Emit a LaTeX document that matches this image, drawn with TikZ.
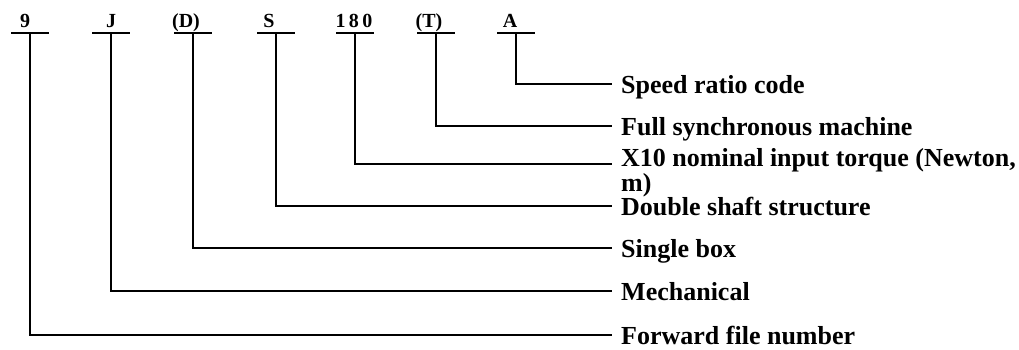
\documentclass[tikz,border=0pt]{standalone}
\usepackage{fontspec}
\setmainfont{Liberation Serif}

% Kennbuchstabe mit Strich darunter (x, Name, Versatz des Textes, Text)
\newcommand{\codemark}[4]{%
    \coordinate (#2) at (#1,33);
    \draw[bar] (#1-19,33) -- (#1+19,33);
    \node[codetext] (#2t) at (#1+#3,27) {#4};
}
% Fuehrungslinie mit Erklaerung
\newcommand{\legende}[4][]{%
    \coordinate (#2e) at (612,#3);
    \draw[leader] (#2) |- (#2e);
    \node[legtext,#1] (#2l) at (#2e) {#4};
}

\begin{document}
\begin{tikzpicture}[x=1pt,y=-1pt,
    bar/.style={line width=2pt},
    leader/.style={line width=2pt},
    codetext/.style={anchor=base, inner sep=0pt, font=\fontsize{20}{20}\selectfont\bfseries},
    legtext/.style={anchor=base west, inner sep=0pt, xshift=9pt, yshift=-9pt, align=left,
        font=\fontsize{26}{23}\selectfont\bfseries}]

    \useasboundingbox (0,0) rectangle (1019,349);

    %%%%%%%%%%%%%%%%%%%%%%%%%%%%%%%%%%%%%%%%%%%%%%%%%%%%%%%%%%%%%%%%%%%%%
    % Kennzeichen oben
    \codemark{30}{a}{-5}{9}
    \codemark{111}{b}{0}{J}
    \codemark{193}{c}{-7}{(D)}
    \codemark{276}{d}{-7}{S}
    \codemark{355}{e}{-1}{1\,8\,0}
    \codemark{436}{f}{-7}{(T)}
    \codemark{516}{g}{-6}{A}

    %%%%%%%%%%%%%%%%%%%%%%%%%%%%%%%%%%%%%%%%%%%%%%%%%%%%%%%%%%%%%%%%%%%%%
    % Erklaerungen rechts
    \legende{g}{84}{Speed ratio code}
    \legende{f}{126}{Full synchronous machine}
    \legende[yshift=-18pt]{e}{164}{X10 nominal input torque (Newton,\\m)}
    \legende{d}{206}{Double shaft structure}
    \legende{c}{248}{Single box}
    \legende{b}{291}{Mechanical}
    \legende{a}{335}{Forward file number}

\end{tikzpicture}
\end{document}
